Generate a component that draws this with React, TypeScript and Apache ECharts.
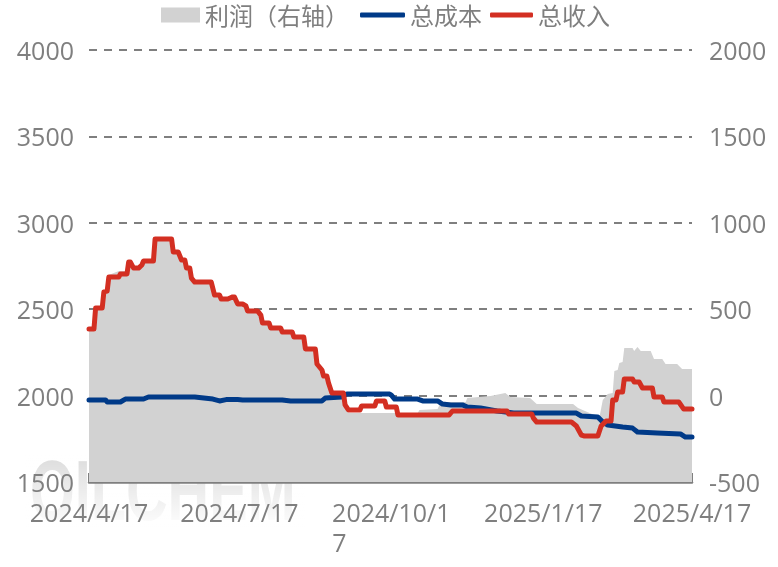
import { useEffect, useRef } from 'react';
import * as echarts from 'echarts';

const FONT = '"Open Sans", "Noto Sans CJK SC", sans-serif';
const GRAY = '#7f7f7f';

const tickDates = ['2024-04-17', '2024-07-17', '2024-10-17', '2025-01-17', '2025-04-17'];
const tickLabels = ['2024/4/17', '2024/7/17', '{a|2024/10/1}\n{b|7}', '2025/1/17', '2025/4/17'];

const profit: [string, number][] = [
  ['2024-04-17', 397], ['2024-04-20', 397], ['2024-04-21', 519], ['2024-04-25', 519], ['2024-04-26', 611],
  ['2024-04-28', 617], ['2024-04-29', 698], ['2024-05-05', 721], ['2024-05-10', 721], ['2024-05-11', 785],
  ['2024-05-12', 785], ['2024-05-14', 750], ['2024-05-17', 750], ['2024-05-19', 767], ['2024-05-20', 790],
  ['2024-05-26', 790], ['2024-05-27', 912], ['2024-06-06', 912], ['2024-06-07', 843], ['2024-06-10', 843],
  ['2024-06-12', 796], ['2024-06-14', 796], ['2024-06-15', 750], ['2024-06-17', 750], ['2024-06-18', 692],
  ['2024-06-20', 669], ['2024-06-30', 669], ['2024-07-02', 594], ['2024-07-05', 594], ['2024-07-06', 571],
  ['2024-07-10', 571], ['2024-07-13', 582], ['2024-07-14', 582], ['2024-07-16', 542], ['2024-07-19', 542],
  ['2024-07-21', 530], ['2024-07-22', 501], ['2024-07-28', 501], ['2024-07-30', 478], ['2024-07-31', 432],
  ['2024-08-04', 432], ['2024-08-05', 403], ['2024-08-11', 403], ['2024-08-12', 380], ['2024-08-18', 380],
  ['2024-08-19', 351], ['2024-08-25', 351], ['2024-08-26', 281], ['2024-09-01', 281], ['2024-09-02', 194],
  ['2024-09-05', 160], ['2024-09-06', 125], ['2024-09-08', 125], ['2024-09-09', 84], ['2024-09-11', 27],
  ['2024-09-18', 27], ['2024-09-19', -43], ['2024-09-21', -101], ['2024-11-02', -101], ['2024-11-03', -83],
  ['2024-11-14', -78], ['2024-11-16', -37], ['2024-12-01', -37], ['2024-12-02', -14], ['2024-12-16', -2],
  ['2024-12-25', 15], ['2024-12-28', -8], ['2025-01-09', -14], ['2025-01-13', -49], ['2025-02-04', -49],
  ['2025-02-07', -72], ['2025-02-14', -101], ['2025-02-20', -124], ['2025-02-22', -26], ['2025-02-25', 9],
  ['2025-02-28', 15], ['2025-03-01', 142], ['2025-03-03', 148], ['2025-03-04', 189], ['2025-03-06', 194],
  ['2025-03-07', 275], ['2025-03-12', 275], ['2025-03-13', 258], ['2025-03-15', 281], ['2025-03-17', 258],
  ['2025-03-23', 258], ['2025-03-25', 212], ['2025-03-30', 212], ['2025-04-01', 183], ['2025-04-08', 183],
  ['2025-04-11', 154], ['2025-04-17', 154],
];

const totalCost: [string, number][] = [
  ['2024-04-17', 1975], ['2024-04-27', 1975], ['2024-04-28', 1963], ['2024-05-06', 1963], ['2024-05-09', 1980],
  ['2024-05-20', 1980], ['2024-05-23', 1992], ['2024-06-20', 1992], ['2024-07-01', 1980], ['2024-07-05', 1969],
  ['2024-07-09', 1977], ['2024-07-16', 1977], ['2024-07-19', 1975], ['2024-08-12', 1975], ['2024-08-17', 1969],
  ['2024-09-05', 1969], ['2024-09-07', 1986], ['2024-09-17', 1992], ['2024-09-20', 2009], ['2024-10-16', 2009],
  ['2024-10-17', 2003], ['2024-10-19', 1980], ['2024-11-02', 1980], ['2024-11-05', 1969], ['2024-11-14', 1969],
  ['2024-11-17', 1951], ['2024-11-22', 1946], ['2024-11-29', 1946], ['2024-12-02', 1934], ['2024-12-10', 1928],
  ['2024-12-20', 1911], ['2024-12-30', 1899], ['2025-02-06', 1899], ['2025-02-09', 1882], ['2025-02-19', 1876],
  ['2025-02-22', 1847], ['2025-02-25', 1830], ['2025-03-06', 1818], ['2025-03-12', 1812], ['2025-03-15', 1789],
  ['2025-03-27', 1784], ['2025-04-10', 1778], ['2025-04-13', 1760], ['2025-04-17', 1760],
];

const totalRevenue: [string, number][] = [
  ['2024-04-17', 2385], ['2024-04-20', 2385], ['2024-04-21', 2507], ['2024-04-25', 2507], ['2024-04-26', 2600],
  ['2024-04-28', 2605], ['2024-04-29', 2686], ['2024-05-05', 2686], ['2024-05-06', 2704], ['2024-05-10', 2704],
  ['2024-05-11', 2773], ['2024-05-12', 2773], ['2024-05-14', 2738], ['2024-05-17', 2738], ['2024-05-19', 2756],
  ['2024-05-20', 2779], ['2024-05-26', 2779], ['2024-05-27', 2906], ['2024-06-06', 2906], ['2024-06-07', 2831],
  ['2024-06-10', 2831], ['2024-06-12', 2785], ['2024-06-14', 2785], ['2024-06-15', 2738], ['2024-06-17', 2738],
  ['2024-06-18', 2680], ['2024-06-20', 2657], ['2024-06-30', 2657], ['2024-07-02', 2582], ['2024-07-05', 2582],
  ['2024-07-06', 2559], ['2024-07-10', 2559], ['2024-07-13', 2571], ['2024-07-14', 2571], ['2024-07-16', 2530],
  ['2024-07-19', 2530], ['2024-07-21', 2519], ['2024-07-22', 2490], ['2024-07-28', 2490], ['2024-07-30', 2466],
  ['2024-07-31', 2420], ['2024-08-04', 2420], ['2024-08-05', 2391], ['2024-08-11', 2391], ['2024-08-12', 2368],
  ['2024-08-18', 2368], ['2024-08-19', 2339], ['2024-08-25', 2339], ['2024-08-26', 2270], ['2024-09-01', 2270],
  ['2024-09-02', 2183], ['2024-09-05', 2148], ['2024-09-06', 2113], ['2024-09-08', 2113], ['2024-09-09', 2073],
  ['2024-09-11', 2015], ['2024-09-18', 2015], ['2024-09-19', 1946], ['2024-09-21', 1917], ['2024-09-28', 1917],
  ['2024-09-29', 1940], ['2024-10-07', 1940], ['2024-10-08', 1969], ['2024-10-13', 1969], ['2024-10-14', 1934],
  ['2024-10-20', 1934], ['2024-10-21', 1888], ['2024-11-21', 1888], ['2024-11-23', 1911], ['2024-12-26', 1911],
  ['2024-12-27', 1894], ['2025-01-10', 1894], ['2025-01-11', 1870], ['2025-01-13', 1847], ['2025-02-03', 1847],
  ['2025-02-06', 1824], ['2025-02-09', 1772], ['2025-02-11', 1766], ['2025-02-19', 1766], ['2025-02-21', 1824],
  ['2025-02-24', 1853], ['2025-02-27', 1853], ['2025-02-28', 1975], ['2025-03-02', 1975], ['2025-03-03', 2021],
  ['2025-03-06', 2021], ['2025-03-07', 2096], ['2025-03-12', 2096], ['2025-03-13', 2079], ['2025-03-16', 2079],
  ['2025-03-18', 2044], ['2025-03-24', 2044], ['2025-03-25', 1992], ['2025-03-30', 1992], ['2025-03-31', 1963],
  ['2025-04-09', 1963], ['2025-04-12', 1922], ['2025-04-17', 1922],
];

const toTime = (d: string) => new Date(d + 'T00:00:00').getTime();
const tickTimes = tickDates.map(toTime);
const toPoints = (rows: [string, number][]) => rows.map(([d, v]) => [toTime(d), v]);

export default function App() {
  const chartRef = useRef<HTMLDivElement>(null);

  useEffect(() => {
    if (!chartRef.current) return;

    const chart = echarts.init(chartRef.current, undefined, { renderer: 'svg' });

    const lineSeries = (name: string, rows: [string, number][], color: string) => ({
      name,
      type: 'line',
      data: toPoints(rows),
      yAxisIndex: 0,
      showSymbol: false,
      symbol: 'none',
      z: 3,
      lineStyle: { color, width: 5, join: 'round', cap: 'round' },
      itemStyle: { color },
    });

    // one legend per item so each can sit where the reference has it
    const legendItem = (name: string, left: number, width: number, height: number, icon: string) => ({
      left,
      top: -2,
      itemWidth: width,
      itemHeight: height,
      icon,
      textStyle: { color: GRAY, fontSize: 24, fontFamily: FONT },
      data: [name],
    });

    const option: any = {
      animation: false,
      textStyle: { fontFamily: FONT },
      grid: { left: 89, right: 86, top: 50, bottom: 85 },
      legend: [
        legendItem('利润（右轴）', 156, 39, 15, 'rect'),
        legendItem('总成本', 355, 45, 5, 'roundRect'),
        legendItem('总收入', 485, 43, 5, 'roundRect'),
      ],
      graphic: [
        {
          type: 'text',
          z: -2,
          x: 30,
          y: 448,
          scaleX: 0.67,
          style: {
            text: 'OILCHEM',
            font: 'bold 86px "Liberation Sans", sans-serif',
            fill: '#dcdcdc',
          },
        },
        {
          type: 'rect',
          z: -1,
          shape: { x: 25, y: 455, width: 280, height: 72 },
          style: {
            fill: new echarts.graphic.LinearGradient(0, 0, 0, 1, [
              { offset: 0, color: 'rgba(255,255,255,0)' },
              { offset: 1, color: 'rgba(255,255,255,0.95)' },
            ]),
          },
        },
      ],
      xAxis: {
        type: 'value',
        min: tickTimes[0],
        max: tickTimes[4],
        axisLine: { onZero: false, lineStyle: { color: GRAY, width: 2.5 } },
        axisTick: { inside: true, length: 9, customValues: tickTimes, lineStyle: { color: GRAY, width: 2 } },
        splitLine: { show: false },
        axisLabel: {
          customValues: tickTimes,
          color: GRAY,
          fontSize: 25,
          fontFamily: FONT,
          margin: 15,
          lineHeight: 30,
          hideOverlap: false,
          showMinLabel: true,
          showMaxLabel: true,
          formatter: (v: number) => tickLabels[tickTimes.indexOf(v)] ?? '',
          rich: {
            a: { color: GRAY, fontSize: 25, fontFamily: FONT, lineHeight: 30 },
            b: { color: GRAY, fontSize: 25, fontFamily: FONT, lineHeight: 30, align: 'left' },
          },
        },
      },
      yAxis: [
        {
          type: 'value',
          min: 1500,
          max: 4000,
          interval: 500,
          axisLine: { show: false },
          axisTick: { show: false },
          axisLabel: { color: GRAY, fontSize: 25, fontFamily: FONT, margin: 15, lineHeight: 26, formatter: (v: number) => String(v) },
          splitLine: { lineStyle: { color: GRAY, type: [8, 7], width: 2 } },
        },
        {
          type: 'value',
          min: -500,
          max: 2000,
          interval: 500,
          axisLine: { show: false },
          axisTick: { show: false },
          axisLabel: { color: GRAY, fontSize: 25, fontFamily: FONT, margin: 17, lineHeight: 26, formatter: (v: number) => String(v) },
          splitLine: { show: false },
        },
      ],
      series: [
        {
          name: '利润（右轴）',
          type: 'line',
          data: toPoints(profit),
          yAxisIndex: 1,
          showSymbol: false,
          symbol: 'none',
          z: 2,
          lineStyle: { width: 0, color: '#d2d2d2' },
          itemStyle: { color: '#d2d2d2' },
          areaStyle: { color: '#d2d2d2', opacity: 1, origin: 'start' },
        },
        lineSeries('总成本', totalCost, '#003a88'),
        lineSeries('总收入', totalRevenue, '#d32f22'),
      ],
    };

    chart.setOption(option);

    return () => {
      chart.dispose();
    };
  }, []);

  return <div ref={chartRef} style={{ position: 'fixed', left: 0, top: 0, width: 778, height: 567 }} />;
}
